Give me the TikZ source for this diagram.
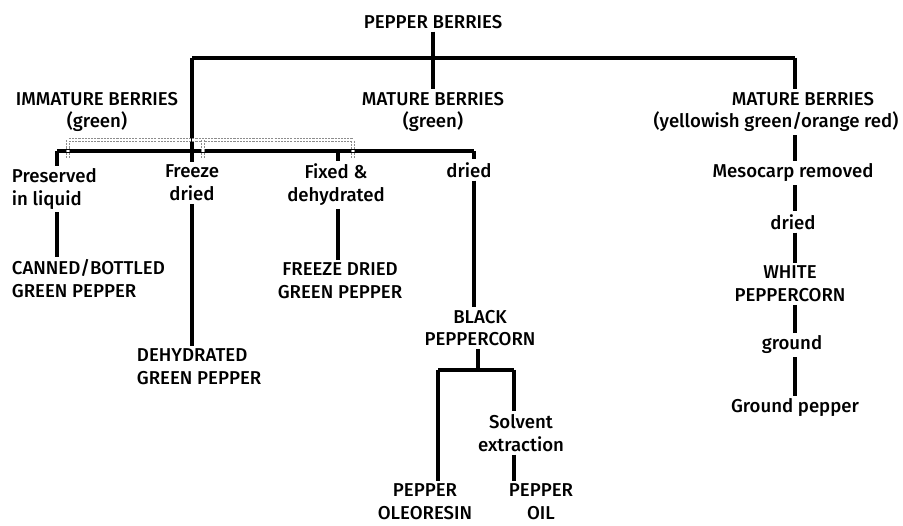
\documentclass[tikz,border=0pt]{standalone}
\usepackage{fontspec}
\setmainfont{Fira Sans}[UprightFont=* Medium]
\usetikzlibrary{positioning,calc}

\begin{document}
\begin{tikzpicture}[x=0.02cm,y=-0.02cm,
  lbl/.style={font=\fontsize{10.6}{13}\selectfont, inner sep=1.5pt, align=center},
  lbll/.style={lbl, align=left, anchor=west},
  treeline/.style={draw=black, line width=2.2pt},
  grayline/.style={draw=gray!90, line width=0.45pt, double=white, double distance=1.2pt, dash pattern=on 1.2pt off 0.6pt}
]
\useasboundingbox (0,0) rectangle (903,526);

% top level
\node[lbl] (root) at (433,22) {PEPPER BERRIES};
\node[lbl] (imm) at (97,112) {IMMATURE BERRIES\\(green)};
\node[lbl] (mat) at (433,112) {MATURE BERRIES\\(green)};
\node[lbl] (mb3) at (776,112) {\hspace*{1.08cm}MATURE BERRIES\\(yellowish green/orange red)};

\coordinate (bL) at (192,58);
\coordinate (bR) at (795,58);
\coordinate (jL) at (192,162);
\draw[treeline] (root) -- (mat);
\draw[treeline] (bL) -- (bR);
\draw[treeline] (bR) -- (bR |- mb3.north);
\draw[treeline] (bL) -- (jL);

% green berries
\node[lbll] (pres) at (9,189) {Preserved\\in liquid};
\node[lbl] (freeze) at (192,183) {Freeze\\dried};
\node[lbl] (fixed) at (336,185) {Fixed \&\\dehydrated};
\node[lbl] (dried1) at (469,170) {dried};
\node[lbll] (canned) at (9,279) {CANNED/BOTTLED\\GREEN PEPPER};
\node[lbll] (dehyd) at (134,367) {DEHYDRATED\\GREEN PEPPER};
\node[lbl] (fdgp) at (340,281) {FREEZE DRIED\\GREEN PEPPER};
\node[lbl] (black) at (480,328) {BLACK\\PEPPERCORN};

\coordinate (s1) at (57,151);
\coordinate (s3) at (338,151);
\coordinate (s4) at (474,151);
\draw[treeline] (s1) -- (s4);
\draw[treeline] (s1) -- (s1 |- pres.north);
\draw[treeline] (s3) -- (s3 |- fixed.north);
\draw[treeline] (s4) -- (s4 |- dried1.north);
\draw[treeline] (pres.south -| s1) -- (canned.north -| s1);
\draw[treeline] (freeze.south -| jL) -- (dehyd.north -| jL);
\draw[treeline] (fixed.south -| s3) -- (fdgp.north -| s3);
\draw[treeline] (dried1.south -| s4) -- (black.north -| s4);

% immature bracket
\coordinate (g1) at (68,158);
\coordinate (g2) at (203,158);
\coordinate (g3) at (353,158);
\coordinate (gt) at (68,140);
\draw[grayline] (g1) -- (gt) -- (gt -| g3) -- (g3);
\draw[grayline] (gt -| g2) -- (g2);

% black peppercorn
\node[lbl] (solv) at (521,433) {Solvent\\extraction};
\node[lbl] (oleo) at (425,502) {PEPPER\\OLEORESIN};
\node[lbl] (oil) at (541,502) {PEPPER\\OIL};
\coordinate (k0) at (478,370);
\coordinate (k1) at (438,370);
\coordinate (k2) at (514,370);
\draw[treeline] (black.south -| k0) -- (k0);
\draw[treeline] (k1) -- (k2);
\draw[treeline] (k1) -- (k1 |- oleo.north);
\draw[treeline] (k2) -- (k2 |- solv.north);
\draw[treeline] (solv.south -| k2) -- (k2 |- oil.north);

% white pepper
\node[lbl] (meso) at (793,173) {Mesocarp removed};
\node[lbl] (dried2) at (793,222) {dried};
\node[lbl] (white) at (790,284) {WHITE\\PEPPERCORN};
\node[lbl] (ground) at (792,345) {ground};
\node[lbl] (gpep) at (795,408) {Ground pepper};
\draw[treeline] (mb3.south -| bR) -- (meso.north -| bR);
\draw[treeline] (meso.south -| bR) -- (dried2.north -| bR);
\draw[treeline] (dried2.south -| bR) -- (white.north -| bR);
\draw[treeline] (white.south -| bR) -- (ground.north -| bR);
\draw[treeline] (ground.south -| bR) -- (gpep.north -| bR);

\end{tikzpicture}
\end{document}
